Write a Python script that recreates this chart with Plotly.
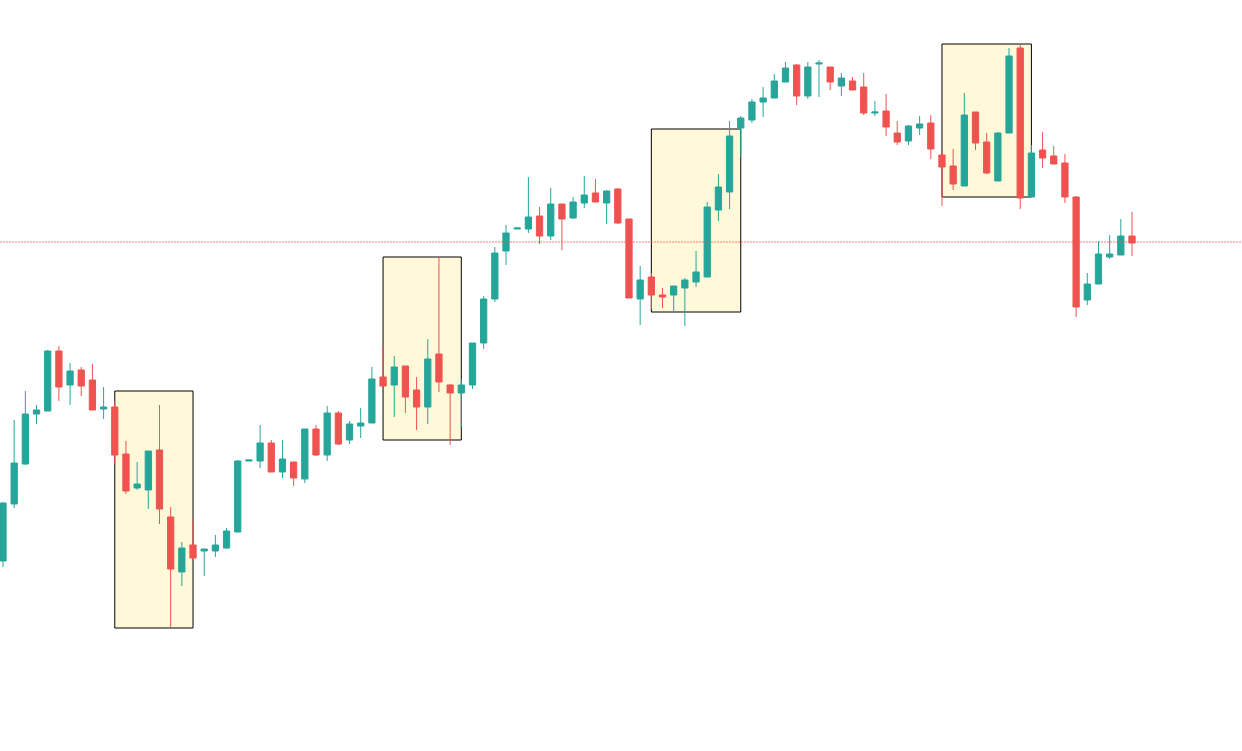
import plotly.graph_objects as go

# OHLC values (price units)
opens = [190, 247, 287, 337, 340, 400, 366, 381, 371, 342,
         344, 297, 263, 261, 301, 234, 179, 206, 200, 200,
         203, 219, 290, 290, 308, 279, 289, 272, 322, 296,
         338, 311, 325, 328, 374, 366, 385, 361, 344, 397,
         366, 358, 366, 408, 452, 500, 522, 522, 535, 515,
         547, 533, 548, 558, 548, 562, 532, 452, 474, 456,
         456, 463, 469, 474, 541, 559, 623, 631, 649, 653,
         669, 686, 655, 687, 684, 665, 670, 664, 638, 640,
         618, 610, 623, 628, 596, 585, 565, 639, 609, 570,
         618, 703, 554, 601, 595, 588, 554, 451, 467, 494,
         496, 515]
highs = [249, 331, 360, 346, 401, 405, 388, 384, 387, 364,
         350, 310, 289, 300, 346, 244, 209, 232, 202, 216,
         223, 291, 291, 326, 311, 311, 289, 322, 326, 345,
         340, 330, 343, 384, 405, 395, 385, 374, 412, 494,
         367, 372, 408, 455, 504, 526, 523, 574, 544, 563,
         547, 554, 575, 572, 561, 563, 532, 485, 478, 463,
         465, 473, 500, 549, 577, 630, 635, 652, 664, 677,
         689, 687, 689, 691, 684, 678, 674, 678, 650, 657,
         630, 626, 635, 636, 599, 602, 658, 639, 618, 619,
         703, 706, 606, 619, 605, 597, 555, 478, 510, 516,
         532, 539]
lows = [184, 243, 286, 327, 340, 350, 346, 355, 341, 332,
        287, 257, 261, 242, 227, 124, 165, 191, 175, 194,
        202, 219, 290, 283, 279, 273, 265, 268, 295, 290,
        306, 307, 313, 328, 365, 334, 338, 321, 327, 359,
        306, 324, 362, 402, 449, 486, 522, 518, 507, 511,
        501, 532, 543, 549, 527, 527, 453, 426, 442, 443,
        439, 425, 464, 474, 530, 542, 594, 628, 634, 653,
        669, 646, 652, 654, 661, 655, 661, 636, 635, 615,
        606, 606, 616, 592, 545, 561, 565, 601, 577, 570,
        618, 542, 554, 583, 587, 548, 434, 446, 467, 492,
        496, 495]
closes = [248, 288, 337, 341, 400, 364, 380, 365, 341, 344,
          296, 260, 267, 300, 242, 182, 203, 193, 202, 206,
          220, 290, 291, 308, 279, 292, 273, 322, 296, 338,
          307, 327, 328, 372, 365, 384, 354, 344, 392, 369,
          358, 366, 408, 452, 498, 518, 523, 534, 515, 547,
          532, 549, 556, 549, 560, 528, 453, 471, 456, 454,
          465, 471, 479, 544, 564, 615, 633, 649, 653, 670,
          683, 655, 684, 688, 669, 673, 661, 638, 639, 624,
          609, 625, 627, 602, 584, 567, 636, 608, 578, 618,
          695, 553, 598, 593, 587, 554, 444, 467, 497, 497,
          515, 508]

# Highlighted zones: start bar, end bar, top price, bottom price
zone_start = [10, 34, 58, 84]
zone_end = [17, 41, 66, 92]
zone_top = [360, 494, 622, 707]
zone_bottom = [123, 311, 439, 554]

ref_level = 509

bars = list(range(len(opens)))

fig = go.Figure(
    go.Candlestick(
        x=bars, open=opens, high=highs, low=lows, close=closes,
        increasing=dict(line=dict(color="#26a69a", width=1), fillcolor="#26a69a"),
        decreasing=dict(line=dict(color="#ef5350", width=1), fillcolor="#ef5350"),
        whiskerwidth=0,
        showlegend=False,
    )
)

for s, e, t, b in zip(zone_start, zone_end, zone_top, zone_bottom):
    fig.add_shape(type="rect", x0=s, x1=e, y0=b, y1=t,
                  line=dict(color="black", width=1),
                  fillcolor="#fff9d9", layer="below")

fig.add_hline(y=ref_level, line=dict(color="rgba(239,83,80,0.75)", width=1, dash="2px,1px"))

fig.update_layout(
    width=1242, height=751,
    margin=dict(l=0, r=0, t=0, b=0),
    plot_bgcolor="white", paper_bgcolor="white",
    showlegend=False,
    boxgap=0.2,
    hovermode=False,
    xaxis=dict(range=[-0.268, 110.84], visible=False, rangeslider=dict(visible=False)),
    yaxis=dict(range=[0, 751], visible=False),
)

fig.write_html("out.html", config={"displayModeBar": False},
               post_script="document.body.style.margin='0';")
